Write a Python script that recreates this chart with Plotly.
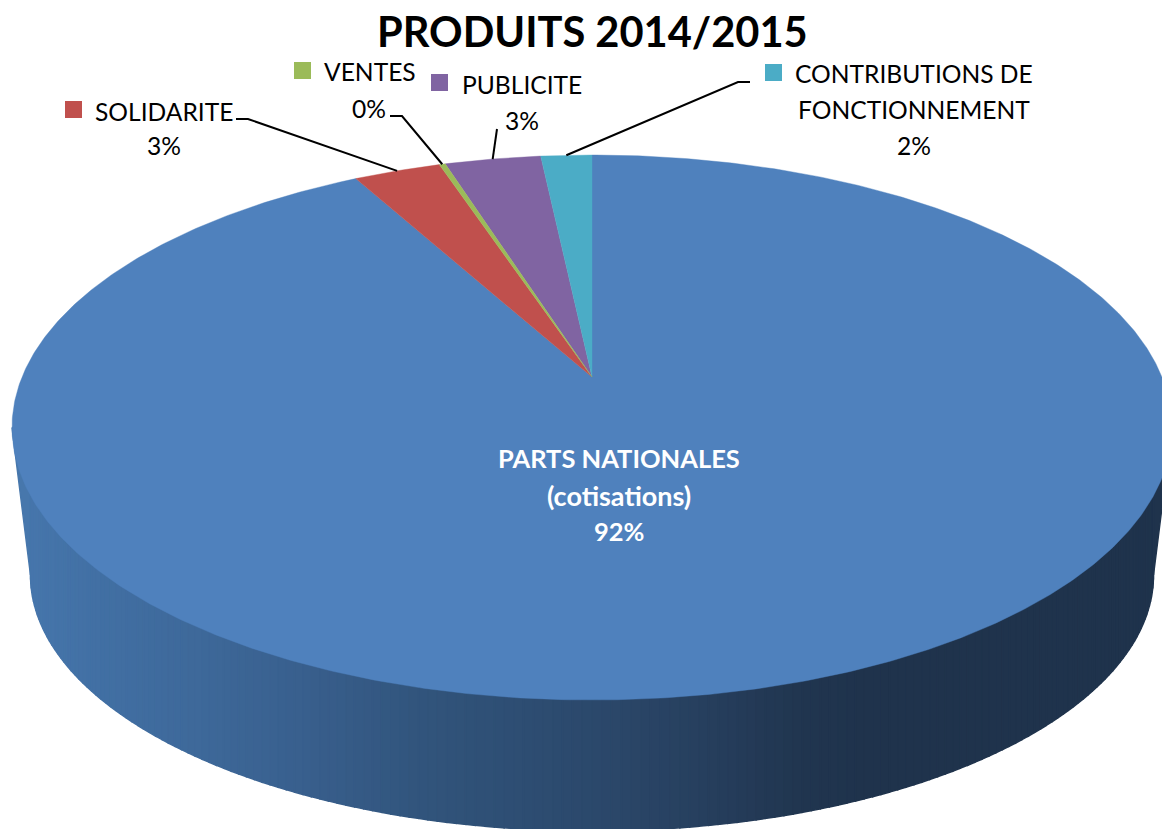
import numpy as np
import plotly.graph_objects as go

# --- data (percent of total, clockwise from 12 o'clock) ---
categories = ["PARTS NATIONALES (cotisations)", "SOLIDARITE", "VENTES", "PUBLICITE", "CONTRIBUTIONS DE FONCTIONNEMENT"]
values = [92.0, 2.9, 0.2, 3.2, 1.7]
percent_labels = ["92%", "3%", "0%", "3%", "2%"]
colors = ["#4F81BD", "#C0504D", "#9BBB59", "#8064A2", "#4BACC6"]
title_text = "PRODUITS 2014/2015"

W, H = 1162, 829
FONT = "Lato"

# --- geometry of the tilted pie, in pixel-like axis units ---
APEX_X, APEX_Y = 592.0, 377.0
TOP_RY_UP, TOP_RY_DOWN, TOP_RX = 222.0, 323.0, 580.0
k = (TOP_RY_DOWN - TOP_RY_UP) / (TOP_RY_UP + TOP_RY_DOWN)   # perspective factor
b = TOP_RY_UP * (1 + k)
A = TOP_RX * np.sqrt(1 - k * k)


def project(theta_deg):
    """Clockwise pie angle from the top -> picture position through the perspective."""
    t = np.radians(theta_deg)
    u, v = np.sin(t), np.cos(t)
    d = 1 + k * v
    return APEX_X + A * u / d, APEX_Y - b * v / d


# ellipses of the side wall
TOP_CY = APEX_Y + (TOP_RY_DOWN - TOP_RY_UP) / 2
BOT_CY, BOT_RX, BOT_RY = 575.0, 561.5, 256.0

side_stops_x = [12, 100, 200, 300, 420, 520, 620, 720, 800, 870, 1172]
side_stops_rgb = [(72, 120, 174), (66, 112, 164), (62, 105, 154), (57, 96, 142), (50, 85, 125),
                  (46, 78, 115), (43, 71, 105), (38, 62, 92), (33, 54, 80), (31, 51, 76), (31, 51, 76)]


def wall_bottom(x):
    """Lower outline of the side wall at picture position x."""
    dx = abs(x - APEX_X)
    if dx >= BOT_RX:
        return BOT_CY - (dx - BOT_RX) / (TOP_RX - BOT_RX) * (BOT_CY - TOP_CY)
    return BOT_CY + BOT_RY * np.sqrt(1 - (dx / BOT_RX) ** 2)


fig = go.Figure()

# side wall: vertical bands, so the shading runs strictly left to right
band_x = np.concatenate([[APEX_X - TOP_RX],
                         APEX_X - BOT_RX * np.cos(np.linspace(0, np.pi, 181)),
                         [APEX_X + TOP_RX]])
for x0, x1 in zip(band_x[:-1], band_x[1:]):
    xm = (x0 + x1) / 2
    rgb = [np.interp(xm, side_stops_x, [c[j] for c in side_stops_rgb]) for j in range(3)]
    col = "rgb(%d,%d,%d)" % tuple(rgb)
    xs = [x0, x1, x1, x0, x0]
    ys = [TOP_CY, TOP_CY, wall_bottom(x1), wall_bottom(x0), TOP_CY]
    fig.add_trace(go.Scatter(x=xs, y=ys, mode="lines", fill="toself", fillcolor=col,
                             line=dict(color=col, width=1.5), hoverinfo="skip", showlegend=False))

# top face: one polygon per slice (the hair-thin VENTES slice is painted last)
edges = np.concatenate([[0], np.cumsum(values)]) / np.sum(values) * 360.0
for i in [0, 1, 3, 4, 2]:
    th = np.linspace(edges[i], edges[i + 1], max(3, int((edges[i + 1] - edges[i]) * 2)))
    px, py = project(th)
    xs = [APEX_X] + list(px) + [APEX_X]
    ys = [APEX_Y] + list(py) + [APEX_Y]
    fig.add_trace(go.Scatter(x=xs, y=ys, mode="lines", fill="toself", fillcolor=colors[i],
                             line=dict(color=colors[i], width=0.4), name=categories[i],
                             hoverinfo="name", showlegend=False))

# leader lines: elbows near the labels, ending on the rim at mid-slice
leader_elbows = {
    1: [(236, 119), (248, 119)],
    2: [(390, 116), (402, 116)],
    3: [(497, 129)],
    4: [(750, 82), (738, 82)],
}
for i, pts in leader_elbows.items():
    ex, ey = project((edges[i] + edges[i + 1]) / 2)
    fig.add_trace(go.Scatter(x=[p[0] for p in pts] + [float(ex)], y=[p[1] for p in pts] + [float(ey)],
                             mode="lines", line=dict(color="black", width=2),
                             hoverinfo="skip", showlegend=False))

# legend keys beside the labels
key_pos = {1: (73.5, 109.5), 2: (302.5, 70.5), 3: (439.5, 82.5), 4: (773.5, 72.5)}
for i, (kx, ky) in key_pos.items():
    fig.add_trace(go.Scatter(x=[kx], y=[ky], mode="markers",
                             marker=dict(symbol="square", size=17, color=colors[i], line=dict(width=0)),
                             hoverinfo="skip", showlegend=False))


def label(x, y, text, size=24.6, color="black", bold=False):
    fig.add_annotation(x=x, y=y, text=("<b>%s</b>" % text) if bold else text, showarrow=False,
                       xanchor="center", yanchor="middle",
                       font=dict(family=FONT, size=size, color=color))


label(592, 31, title_text, size=41.6, bold=True)
label(164, 111, "SOLIDARITE")
label(164, 145, percent_labels[1])
label(370, 71, "VENTES")
label(369, 108, percent_labels[2])
label(522, 84, "PUBLICITE")
label(522, 120, percent_labels[3])
label(914, 73, "CONTRIBUTIONS DE")
label(914, 109, "FONCTIONNEMENT")
label(914, 145, percent_labels[4])
label(619, 458, "PARTS NATIONALES", size=25.5, color="white", bold=True)
label(619, 495, "(cotisations)", size=27, color="white", bold=True)
label(619, 531, percent_labels[0], size=25.5, color="white", bold=True)

fig.update_layout(
    width=W, height=H, margin=dict(l=0, r=0, t=0, b=0),
    paper_bgcolor="white", plot_bgcolor="white",
    xaxis=dict(range=[0, W], visible=False, fixedrange=True),
    yaxis=dict(range=[H, 0], visible=False, fixedrange=True),
    showlegend=False,
)
fig.write_html("out.html", config={"displayModeBar": False},
               post_script="document.body.style.margin='0';document.body.style.overflow='hidden';")
